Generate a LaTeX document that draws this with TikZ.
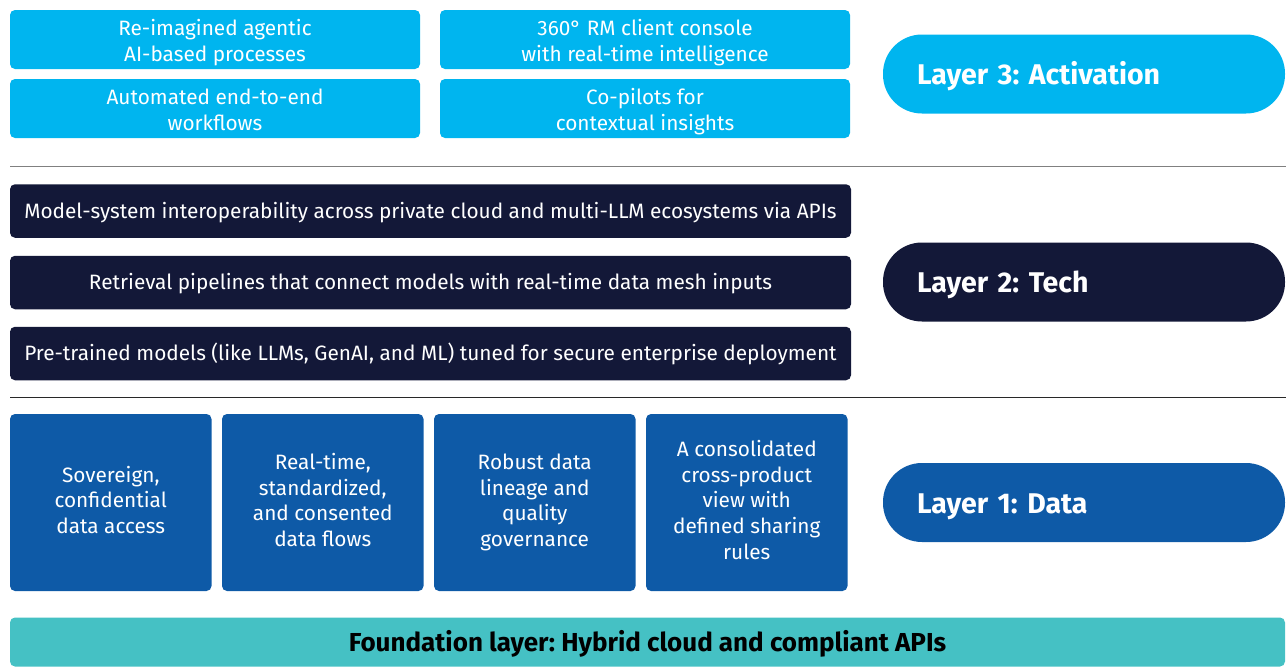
\documentclass[tikz,border=0pt]{standalone}
\usepackage{fontspec}
\setmainfont{Fira Sans}
\frenchspacing
\newcommand\capstrut[1]{\rule[-0.3em]{0pt}{\dimexpr1.289em+#1\relax}}
\newcommand\topstrut[1]{\rule{0pt}{#1}}
\newcommand\botstrut{\rule[-0.3em]{0pt}{0.3em}}
\newcommand\acttext[2]{\topstrut{23.6pt}#1\\#2\botstrut}
\definecolor{lblue}{RGB}{0,181,239}
\definecolor{navy}{RGB}{19,24,56}
\definecolor{dblue}{RGB}{14,90,167}
\definecolor{teal}{RGB}{69,193,196}
\definecolor{rule1}{RGB}{128,128,128}
\definecolor{rule2}{RGB}{40,40,40}
\tikzset{
  centred/.style={execute at begin node={\capstrut{#1}}, execute at end node={\capstrut{0pt}}},
  centred/.default=0pt,
  boxbase/.style={rectangle, rounded corners=5pt, inner sep=0pt, align=center, text=white},
  actbox/.style={boxbase, fill=lblue, minimum width=410pt, minimum height=59pt,
    font=\fontsize{20.8}{26}\selectfont},
  techbox/.style={boxbase, fill=navy, minimum width=841pt, minimum height=53.5pt,
    font=\fontsize{20.8}{25.8}\selectfont, centred=0pt},
  databox/.style={boxbase, fill=dblue, minimum width=201.5pt, minimum height=177pt,
    font=\fontsize{20.8}{25.6}\selectfont},
  pill/.style={rectangle, rounded corners=39pt, minimum width=402pt, minimum height=79pt,
    text width=334pt, inner xsep=34pt, inner ysep=0pt, align=left, text=white,
    font=\fontsize{28.5}{32}\selectfont\bfseries, centred=2pt},
  foundbox/.style={rectangle, rounded corners=5pt, fill=teal, minimum width=1275pt, minimum height=49pt,
    inner sep=0pt, text=black, font=\fontsize{26}{30}\selectfont\bfseries, centred=2pt},
  sep/.style={line width=1.2pt}
}
\begin{document}
\begin{tikzpicture}[x=1pt,y=-1pt]
\useasboundingbox (0,0) rectangle (1286,667);
% Layer 3
\node[actbox] (a1) at (215,39.5) {\acttext{Re-imagined agentic}{AI-based processes}};
\node[actbox] (a2) at (215,108.5) {\acttext{Automated end-to-end}{workflows}};
\node[actbox] (a3) at (645,39.5) {\acttext{360° RM client console}{with real-time intelligence}};
\node[actbox] (a4) at (645,108.5) {\acttext{Co-pilots for}{contextual insights}};
\node[pill, fill=lblue] (l3) at (1084,74) {Layer 3: Activation};
% separator 1
\coordinate (s1a) at (10,166.5);
\coordinate (s1b) at (1286,166.5);
\draw[sep, rule1] (s1a) -- (s1b);
% Layer 2
\node[techbox] (t1) at (430.5,211) {Model-system interoperability across private cloud and multi-LLM ecosystems via APIs};
\node[techbox] (t2) at (430.5,282.5) {Retrieval pipelines that connect models with real-time data mesh inputs};
\node[techbox] (t3) at (430.5,353.5) {Pre-trained models (like LLMs, GenAI, and ML) tuned for secure enterprise deployment};
\node[pill, fill=navy] (l2) at (1084,282) {Layer 2: Tech};
% separator 2
\coordinate (s2a) at (10,397.5);
\coordinate (s2b) at (1286,397.5);
\draw[sep, rule2] (s2a) -- (s2b);
% Layer 1
\node[databox] (d1) at (110.75,502.5) {\topstrut{17.2pt}Sovereign,\\confidential\\data access\botstrut};
\node[databox] (d2) at (322.75,502.5) {\topstrut{17.2pt}Real-time,\\standardized,\\and consented\\data flows\botstrut};
\node[databox] (d3) at (534.75,502.5) {\topstrut{17.2pt}Robust data\\lineage and\\quality\\governance\botstrut};
\node[databox] (d4) at (746.75,502.5) {\topstrut{17.2pt}A consolidated\\cross-product\\view with\\defined sharing\\rules\botstrut};
\node[pill, fill=dblue] (l1) at (1084,502.5) {Layer 1: Data};
% Foundation
\node[foundbox] (f) at (647.5,642) {Foundation layer: Hybrid cloud and compliant APIs};
\end{tikzpicture}
\end{document}
